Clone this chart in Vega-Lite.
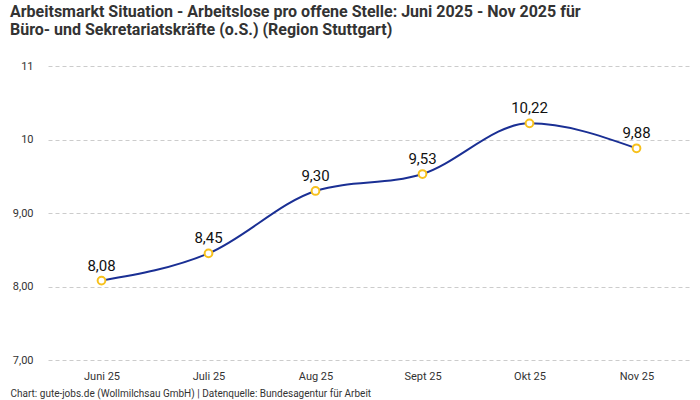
{
  "$schema": "https://vega.github.io/schema/vega-lite/v6.json",
  "width": 642,
  "height": 294,
  "autosize": {"type": "none"},
  "padding": {"left": 48, "top": 66, "right": 10, "bottom": 40},
  "background": "white",
  "config": {
    "font": "Roboto",
    "view": {"stroke": null},
    "locale": {
      "number": {"decimal": ",", "thousands": ".", "grouping": [3], "currency": ["", " €"]}
    }
  },
  "title": {
    "text": ["Arbeitsmarkt Situation - Arbeitslose pro offene Stelle: Juni 2025 - Nov 2025 für", "Büro- und Sekretariatskräfte (o.S.) (Region Stuttgart)"],
    "anchor": "start",
    "offset": 22,
    "fontSize": 16,
    "fontWeight": "bold",
    "color": "#333333",
    "lineHeight": 18
  },
  "data": {
    "values": [
      {"monat": "Juni 25", "wert": 8.08},
      {"monat": "Juli 25", "wert": 8.45},
      {"monat": "Aug 25", "wert": 9.30},
      {"monat": "Sept 25", "wert": 9.53},
      {"monat": "Okt 25", "wert": 10.22},
      {"monat": "Nov 25", "wert": 9.88}
    ]
  },
  "encoding": {
    "x": {
      "field": "monat",
      "type": "ordinal",
      "sort": null,
      "scale": {"type": "point", "padding": 0.5},
      "axis": {
        "title": "Chart: gute-jobs.de (Wollmilchsau GmbH) | Datenquelle: Bundesagentur für Arbeit",
        "titleAnchor": "start",
        "titleAlign": "left",
        "titleX": -38,
        "titleY": 36,
        "titleBaseline": "alphabetic",
        "titleFontSize": 10,
        "titleFontWeight": "normal",
        "titleColor": "#333333",
        "labelAngle": 0,
        "labelFontSize": 11,
        "labelColor": "#333333",
        "labelPadding": 10,
        "domain": false,
        "ticks": false,
        "grid": false
      }
    },
    "y": {
      "field": "wert",
      "type": "quantitative",
      "scale": {"domain": [7, 11]},
      "axis": {
        "title": null,
        "values": [7, 8, 9, 10, 11],
        "labelExpr": "datum.value >= 10 ? format(datum.value, 'd') : format(datum.value, '.2f')",
        "labelFontSize": 11,
        "labelColor": "#333333",
        "labelPadding": 15,
        "domain": false,
        "ticks": false,
        "grid": true,
        "gridColor": "#cccccc",
        "gridDash": [4, 3],
        "gridWidth": 1
      }
    }
  },
  "layer": [
    {
      "mark": {"type": "line", "interpolate": "monotone", "color": "#1a2f94", "strokeWidth": 2}
    },
    {
      "mark": {"type": "point", "filled": true, "fill": "white", "stroke": "#f7c11c", "strokeWidth": 2, "size": 60, "opacity": 1}
    },
    {
      "mark": {"type": "text", "baseline": "bottom", "dy": -7, "fontSize": 15, "fontWeight": "normal", "color": "#111111"},
      "encoding": {
        "text": {"field": "wert", "type": "quantitative", "format": ".2f"}
      }
    }
  ]
}
